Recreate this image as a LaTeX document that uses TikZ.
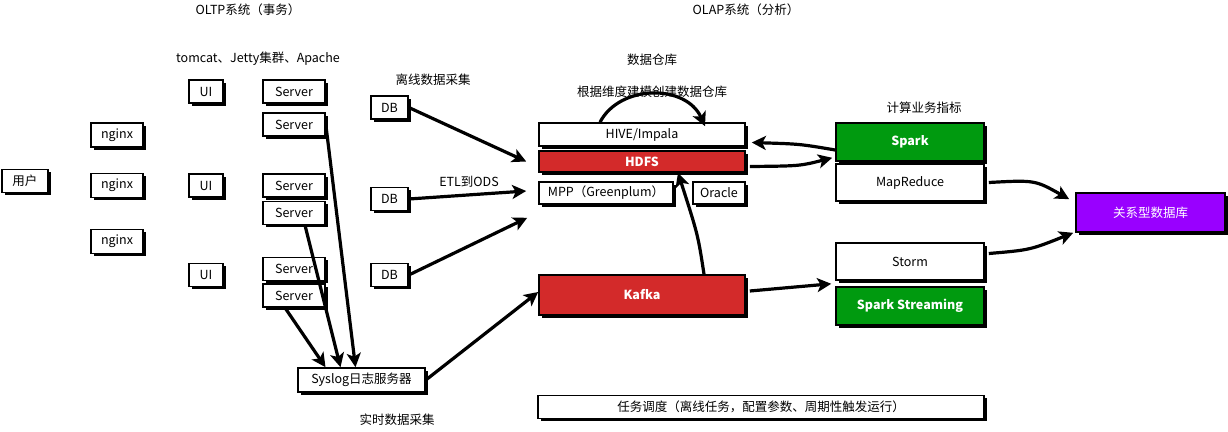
\documentclass[tikz,border=0pt]{standalone}
\usepackage{fontspec}
\setmainfont{Noto Sans CJK SC}
\usetikzlibrary{arrows.meta,shadows}

\definecolor{boxred}{RGB}{211,42,42}
\definecolor{boxgreen}{RGB}{0,154,15}
\definecolor{boxpurple}{RGB}{153,0,255}

\tikzset{
  box/.style={draw, line width=1.6pt, fill=white, inner sep=0pt,
    drop shadow={shadow xshift=2.5pt, shadow yshift=-2.5pt, fill=black, opacity=1}},
  label/.style={inner sep=0pt},
  arr/.style={line width=3.2pt, -{Stealth[length=14pt, width=14pt, inset=3.5pt]}}
}

\begin{document}
\begin{tikzpicture}[x=1pt, y=-1pt, font=\fontsize{12.5}{14}\selectfont]
      \useasboundingbox (0,0) rectangle (1228,431);

      % Titles
      \node[label] (oltp) at (248,10) {OLTP系统（事务）};
      \node[label] (olap) at (746,10) {OLAP系统（分析）};
      \node[label] (web) at (258,59) {tomcat、Jetty集群、Apache};

      % Users and nginx
      \node[box, minimum width=46pt, minimum height=23pt] (user) at (25,181) {用户};
      \node[box, minimum width=52pt, minimum height=24pt] (nginxa) at (117,135) {nginx};
      \node[box, minimum width=52pt, minimum height=24pt] (nginxb) at (117,185.5) {nginx};
      \node[box, minimum width=52pt, minimum height=24pt] (nginxc) at (117,241.5) {nginx};

      % UI and servers
      \node[box, minimum width=34pt, minimum height=23pt] (uia) at (206,91.5) {UI};
      \node[box, minimum width=34pt, minimum height=23pt] (uib) at (206,185.5) {UI};
      \node[box, minimum width=34pt, minimum height=23pt] (uic) at (206,275) {UI};
      \node[box, minimum width=62pt, minimum height=23pt] (srva) at (294,91.5) {Server};
      \node[box, minimum width=62pt, minimum height=23pt] (srvb) at (294,124.5) {Server};
      \node[box, minimum width=62pt, minimum height=23pt] (srvc) at (294,185.5) {Server};
      \node[box, minimum width=62pt, minimum height=23pt] (srvd) at (294,213) {Server};
      \node[box, minimum width=62pt, minimum height=23pt] (srve) at (294,269) {Server};
      \node[box, minimum width=62pt, minimum height=23pt] (srvf) at (294,295.5) {Server};

      % Syslog server
      \node[box, minimum width=127pt, minimum height=24pt] (syslog) at (361.5,380) {Syslog日志服务器};
      \node[label] (realtime) at (397,420) {实时数据采集};

      % Business databases
      \node[label] (offline) at (433,80) {离线数据采集};
      \node[box, minimum width=37pt, minimum height=23pt] (dba) at (389.5,107.5) {DB};
      \node[box, minimum width=37pt, minimum height=23pt] (dbb) at (389.5,199) {DB};
      \node[box, minimum width=37pt, minimum height=23pt] (dbc) at (389.5,275) {DB};
      \node[label] (etl) at (469,182) {ETL到ODS};

      % Data warehouse
      \node[label] (dw) at (652,60) {数据仓库};
      \node[label] (model) at (652,92) {根据维度建模创建数据仓库};
      \node[box, minimum width=206pt, minimum height=23pt] (hive) at (642,134.5) {HIVE/Impala};
      \node[box, fill=boxred, text=white, font=\fontsize{12.5}{14}\selectfont\bfseries,
        minimum width=206pt, minimum height=21pt] (hdfs) at (642,161.5) {HDFS};
      \node[box, minimum width=134pt, minimum height=22pt] (mpp) at (606,193) {MPP（Greenplum）};
      \node[box, minimum width=52pt, minimum height=22pt] (oracle) at (719,193) {Oracle};
      \node[box, fill=boxred, text=white, font=\fontsize{12.5}{14}\selectfont\bfseries,
        minimum width=206pt, minimum height=40pt] (kafka) at (642,295) {Kafka};
      \node[box, minimum width=446pt, minimum height=23pt] (sched) at (761,407)
        {任务调度（离线任务，配置参数、周期性触发运行）};

      % Computing engines
      \node[label] (metric) at (924,108) {计算业务指标};
      \node[box, fill=boxgreen, text=white, font=\fontsize{12.5}{14}\selectfont\bfseries,
        minimum width=148pt, minimum height=38pt] (spark) at (910,142) {Spark};
      \node[box, minimum width=148pt, minimum height=37pt] (mapred) at (910,182.5) {MapReduce};
      \node[box, minimum width=148pt, minimum height=37pt] (storm) at (910,261.5) {Storm};
      \node[box, fill=boxgreen, text=white, font=\fontsize{12.5}{14}\selectfont\bfseries,
        minimum width=148pt, minimum height=38pt] (sparkstr) at (910,306) {Spark Streaming};

      % Result database
      \node[box, fill=boxpurple, text=white, minimum width=149pt, minimum height=39pt] (rdb) at (1150.5,212.5) {关系型数据库};

      % Logs to syslog
      \draw[arr] (srvb.east) -- ([xshift=-6pt]syslog.north);
      \draw[arr] ([xshift=11pt]srvd.south) -- ([xshift=-21pt]syslog.north);
      \draw[arr] ([xshift=-9pt]srvf.south) -- ([xshift=-36pt]syslog.north);

      % Offline collection
      \draw[arr] (dba.east) -- ([xshift=-12pt]hdfs.west);
      \draw[arr] (dbb.east) -- ([xshift=-12pt,yshift=2pt]mpp.west);
      \draw[arr] (dbc.east) -- ([xshift=-11pt,yshift=-13pt]mpp.south west);

      % Realtime collection
      \draw[arr] (syslog.east) -- ([yshift=3pt]kafka.west);
      \draw[arr] ([xshift=62pt]kafka.north) .. controls (698,235) .. ([xshift=36pt]hdfs.south);
      \draw[arr] ([xshift=4pt,yshift=4pt]kafka.east) -- ([xshift=-4pt,yshift=-3pt]storm.south west);

      % Warehouse model loop
      \draw[arr] ([xshift=-42pt]hive.north) .. controls (620,84) and (686,84) .. ([xshift=63pt,yshift=-4pt]hive.north);

      % Warehouse and engines
      \draw[arr] ([yshift=-8pt]spark.west) .. controls (800,144) .. ([xshift=6pt,yshift=-8pt]hive.east);
      \draw[arr] ([xshift=4pt,yshift=-5pt]hdfs.east) .. controls (800,166) .. ([xshift=-3pt,yshift=4pt]spark.south west);

      % Engines to result database
      \draw[arr] ([xshift=4pt]mapred.east) .. controls (1035,180) .. ([xshift=-6pt,yshift=-7pt]rdb.north west);
      \draw[arr] ([xshift=4pt,yshift=8pt]storm.east) .. controls (1030,250) .. ([xshift=-2pt]rdb.south west);
  \end{tikzpicture}
\end{document}
